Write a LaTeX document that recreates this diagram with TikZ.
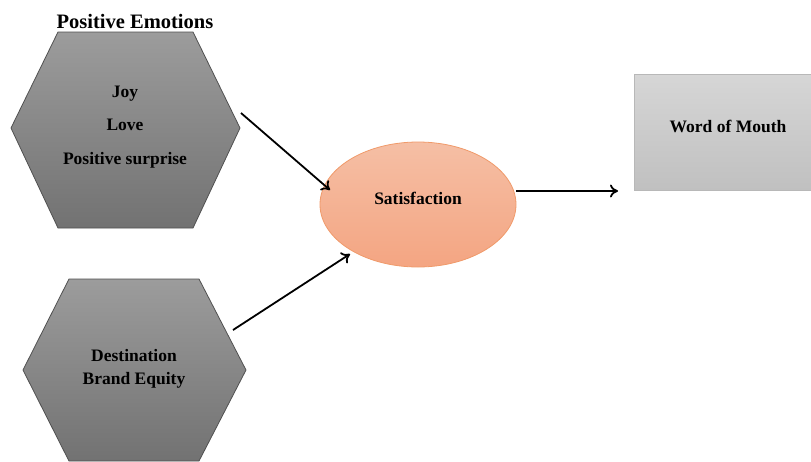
\documentclass[tikz,border=0pt]{standalone}
\usepackage{fontspec}
\setmainfont{Liberation Serif}
\usetikzlibrary{arrows.meta,shapes.geometric}
\definecolor{hextop}{HTML}{9C9C9C}
\definecolor{hexbot}{HTML}{727272}
\definecolor{hexline}{HTML}{505050}
\definecolor{ovtop}{HTML}{F5BFA5}
\definecolor{ovbot}{HTML}{F4A582}
\definecolor{ovline}{HTML}{F09A6A}
\definecolor{boxtop}{HTML}{D6D6D6}
\definecolor{boxbot}{HTML}{C0C0C0}
\definecolor{boxline}{HTML}{B8B8B8}
\tikzset{
  hexshape/.style={draw=hexline, line width=0.8pt, top color=hextop, bottom color=hexbot},
  txt/.style={font=\bfseries\fontsize{17.5}{20}\selectfont, anchor=base, inner sep=0pt},
  title/.style={font=\bfseries\fontsize{20.5}{24}\selectfont, anchor=base, inner sep=0pt},
  link/.style={line width=1.8pt, -{To[length=8pt,width=13pt,line width=1.8pt]}}
}
\begin{document}
\begin{tikzpicture}[x=1pt,y=-1pt]
\useasboundingbox (0,0) rectangle (811,461);

% Positive emotions hexagon
\path[hexshape] (58,32) -- (193,32) -- (240,128) -- (193,228) -- (58,228) -- (11,128) -- cycle;
\node[title] (ptitle) at (135,28) {Positive Emotions};
\node[txt] (joy) at (125,97) {Joy};
\node[txt] (love) at (125,130) {Love};
\node[txt] (psur) at (125,164) {Positive surprise};
\coordinate (pout) at (241,113);

% Destination brand equity hexagon
\path[hexshape] (69,279) -- (199,279) -- (246,370) -- (199,461) -- (69,461) -- (23,370) -- cycle;
\node[txt] (dest) at (134,361) {Destination};
\node[txt] (beq) at (134,384) {Brand Equity};
\coordinate (dout) at (233,330);

% Satisfaction
\node[ellipse, draw=ovline, line width=0.8pt, top color=ovtop, bottom color=ovbot,
      minimum width=196pt, minimum height=125pt, inner sep=0pt] (sat) at (418,204.5) {};
\node[txt] (satl) at (418,204) {Satisfaction};
\coordinate (sin1) at (330,190);
\coordinate (sin2) at (350,254);
\coordinate (sout) at (516,191);

% Word of mouth
\node[draw=boxline, line width=0.6pt, top color=boxtop, bottom color=boxbot,
      minimum width=178pt, minimum height=116pt, inner sep=0pt, anchor=north west] (wom) at (634,74) {};
\node[txt] (woml) at (728,132) {Word of Mouth};
\coordinate (win) at (618,191);

% Connectors
\draw[link] (pout) -- (sin1);
\draw[link] (dout) -- (sin2);
\draw[link] (sout) -- (win);
\end{tikzpicture}
\end{document}
